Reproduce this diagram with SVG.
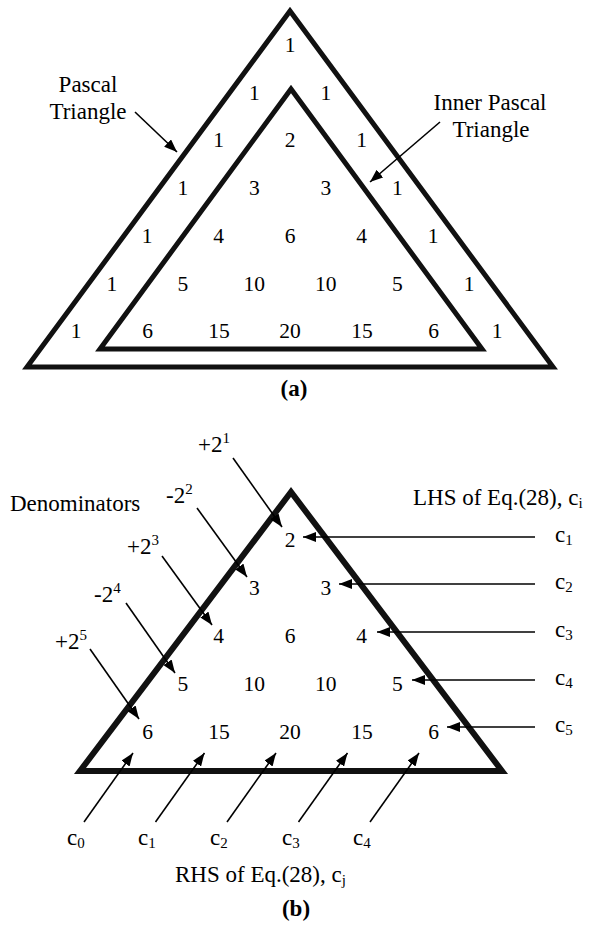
<svg xmlns="http://www.w3.org/2000/svg" width="591" height="925" viewBox="0 0 591 925">
<defs>
<marker id="ah" markerUnits="userSpaceOnUse" markerWidth="14" markerHeight="10" refX="13" refY="5" orient="auto">
<path d="M0,0 L13,5 L0,10 z" fill="#000"/>
</marker>
</defs>
<style>
.tri{fill:none;stroke:#111;stroke-width:5;stroke-linejoin:miter;stroke-miterlimit:10}
.tri6{fill:none;stroke:#111;stroke-width:6;stroke-linejoin:miter;stroke-miterlimit:10}
.num{font-family:"Liberation Serif","Times New Roman",serif;font-size:21.5px;text-anchor:middle;fill:#000}
.lbl{font-family:"Liberation Serif","Times New Roman",serif;font-size:23px;fill:#000}
.mid{text-anchor:middle}
.cap{font-family:"Liberation Serif","Times New Roman",serif;font-size:23px;font-weight:bold;text-anchor:middle;fill:#000}
.sup{font-size:15px}
.arr{stroke:#000;stroke-width:1.6;fill:none;marker-end:url(#ah)}
</style>
<rect width="591" height="925" fill="#fff"/>

<!-- (a) -->
<g id="outer-triangle"><polygon class="tri" points="290,11 27,367 553,367"/></g>
<g id="inner-triangle"><polygon class="tri" points="291,89 100,349 482,349"/></g>
<g id="pascal-numbers-a">
<text class="num" x="290" y="52">1</text>
<text class="num" x="254.25" y="99.7">1</text><text class="num" x="325.75" y="99.7">1</text>
<text class="num" x="218.5" y="147.4">1</text><text class="num" x="290" y="147.4">2</text><text class="num" x="361.5" y="147.4">1</text>
<text class="num" x="182.75" y="195.1">1</text><text class="num" x="254.25" y="195.1">3</text><text class="num" x="325.75" y="195.1">3</text><text class="num" x="397.25" y="195.1">1</text>
<text class="num" x="147" y="242.8">1</text><text class="num" x="218.5" y="242.8">4</text><text class="num" x="290" y="242.8">6</text><text class="num" x="361.5" y="242.8">4</text><text class="num" x="433" y="242.8">1</text>
<text class="num" x="111.75" y="290.5">1</text><text class="num" x="182.75" y="290.5">5</text><text class="num" x="254.25" y="290.5">10</text><text class="num" x="325.75" y="290.5">10</text><text class="num" x="397.25" y="290.5">5</text><text class="num" x="469" y="290.5">1</text>
<text class="num" x="76" y="338.2">1</text><text class="num" x="147.5" y="338.2">6</text><text class="num" x="219" y="338.2">15</text><text class="num" x="290" y="338.2">20</text><text class="num" x="362" y="338.2">15</text><text class="num" x="433.5" y="338.2">6</text><text class="num" x="497" y="338.2">1</text>
</g>
<g id="label-pascal">
<text class="lbl mid" x="88" y="92">Pascal</text>
<text class="lbl mid" x="88" y="119">Triangle</text>
</g>
<g id="label-inner">
<text class="lbl mid" x="490" y="110">Inner Pascal</text>
<text class="lbl mid" x="491" y="137">Triangle</text>
</g>
<text class="cap" x="294" y="396">(a)</text>

<!-- (b) -->
<g id="triangle-b"><polygon class="tri6" points="291,492 80,771 502,771"/></g>
<g id="pascal-numbers-b">
<text class="num" x="290" y="547">2</text>
<text class="num" x="254.25" y="595">3</text><text class="num" x="325.75" y="595">3</text>
<text class="num" x="218.5" y="643">4</text><text class="num" x="290" y="643">6</text><text class="num" x="361.5" y="643">4</text>
<text class="num" x="182.75" y="691">5</text><text class="num" x="254.25" y="691">10</text><text class="num" x="325.75" y="691">10</text><text class="num" x="397.25" y="691">5</text>
<text class="num" x="147.5" y="739">6</text><text class="num" x="219" y="739">15</text><text class="num" x="290" y="739">20</text><text class="num" x="362" y="739">15</text><text class="num" x="433.5" y="739">6</text>
</g>
<g id="label-denominators">
<text class="lbl" x="10" y="511">Denominators</text>
<text class="lbl" x="198" y="452">+2<tspan class="sup" dy="-9">1</tspan></text>
<text class="lbl" x="166" y="503">-2<tspan class="sup" dy="-9">2</tspan></text>
<text class="lbl" x="127" y="554">+2<tspan class="sup" dy="-9">3</tspan></text>
<text class="lbl" x="94" y="602">-2<tspan class="sup" dy="-9">4</tspan></text>
<text class="lbl" x="55" y="649">+2<tspan class="sup" dy="-9">5</tspan></text>
</g>
<g id="label-lhs">
<text class="lbl" x="413" y="505">LHS of Eq.(28), c<tspan class="sup" dy="3">i</tspan></text>
<text class="lbl" x="555" y="542">c<tspan class="sup" dy="3">1</tspan></text>
<text class="lbl" x="555" y="589">c<tspan class="sup" dy="3">2</tspan></text>
<text class="lbl" x="555" y="637">c<tspan class="sup" dy="3">3</tspan></text>
<text class="lbl" x="555" y="685">c<tspan class="sup" dy="3">4</tspan></text>
<text class="lbl" x="555" y="732">c<tspan class="sup" dy="3">5</tspan></text>
</g>
<g id="label-rhs">
<text class="lbl" x="67" y="845">c<tspan class="sup" dy="3">0</tspan></text>
<text class="lbl" x="138" y="845">c<tspan class="sup" dy="3">1</tspan></text>
<text class="lbl" x="210" y="845">c<tspan class="sup" dy="3">2</tspan></text>
<text class="lbl" x="282" y="845">c<tspan class="sup" dy="3">3</tspan></text>
<text class="lbl" x="353" y="845">c<tspan class="sup" dy="3">4</tspan></text>
<text class="lbl" x="175" y="882">RHS of Eq.(28), c<tspan class="sup" dy="3">j</tspan></text>
</g>
<text class="cap" x="296" y="916">(b)</text>

<g id="connectors">
<line class="arr" x1="135" y1="112" x2="177" y2="152"/>
<line class="arr" x1="440" y1="122" x2="370" y2="182"/>
<line class="arr" x1="233" y1="458" x2="282" y2="527"/>
<line class="arr" x1="197" y1="508" x2="247" y2="577"/>
<line class="arr" x1="162" y1="556" x2="212" y2="625"/>
<line class="arr" x1="126" y1="603" x2="175" y2="673"/>
<line class="arr" x1="90" y1="649" x2="139" y2="719"/>
<line class="arr" x1="535" y1="537" x2="303" y2="537"/>
<line class="arr" x1="535" y1="584" x2="339" y2="584"/>
<line class="arr" x1="535" y1="632" x2="377" y2="632"/>
<line class="arr" x1="535" y1="680" x2="412" y2="680"/>
<line class="arr" x1="535" y1="727" x2="447" y2="727"/>
<line class="arr" x1="84" y1="822" x2="133" y2="753"/>
<line class="arr" x1="155.5" y1="822" x2="204.5" y2="753"/>
<line class="arr" x1="227" y1="822" x2="276" y2="753"/>
<line class="arr" x1="298.5" y1="822" x2="347.5" y2="753"/>
<line class="arr" x1="370" y1="822" x2="419" y2="753"/>
</g>
</svg>
